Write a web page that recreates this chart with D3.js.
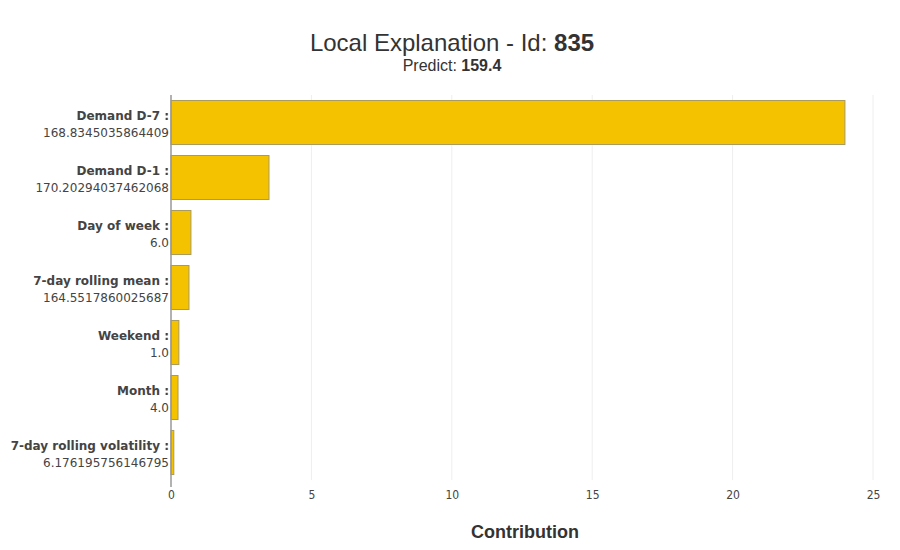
<!DOCTYPE html>
<html>
<head>
<meta charset="utf-8">
<script src="https://cdn.jsdelivr.net/npm/d3@7"></script>
<style>
  body { margin: 0; background: #fff; }
  .tick text { font-family: "DejaVu Sans Condensed", "DejaVu Sans", sans-serif; font-size: 12px; fill: #444; }
</style>
</head>
<body>
<div id="chart"></div>
<script>
// feature names, feature values and contributions
const features = ["Demand D-7", "Demand D-1", "Day of week", "7-day rolling mean", "Weekend", "Month", "7-day rolling volatility"];
const featureValues = ["168.8345035864409", "170.20294037462068", "6.0", "164.5517860025687", "1.0", "4.0", "6.176195756146795"];
const contributions = [24.0, 3.49, 0.71, 0.64, 0.28, 0.25, 0.1];
const xTicks = [0, 5, 10, 15, 20, 25];

const data = features.map((f, i) => ({name: f, value: featureValues[i], contrib: contributions[i]}));

const width = 900, height = 550;
const margin = {top: 95, right: 27, bottom: 70, left: 171};

const svg = d3.select("#chart").append("svg")
    .attr("width", width)
    .attr("height", height);

const g = svg.append("g")
    .attr("transform", `translate(${margin.left},${margin.top})`);

const innerW = width - margin.left - margin.right;
const innerH = height - margin.top - margin.bottom;

const x = d3.scaleLinear()
    .domain([0, 25])
    .range([0, 702]);

const y = d3.scaleBand()
    .domain(features)
    .range([0, 385])
    .paddingInner(0.2)
    .paddingOuter(0.1);

// gridlines
g.selectAll(".grid")
    .data(xTicks.filter(d => d > 0))
    .enter()
    .append("line")
    .attr("class", "grid")
    .attr("x1", d => x(d))
    .attr("x2", d => x(d))
    .attr("y1", 0)
    .attr("y2", 385)
    .attr("stroke", "#eeeeee")
    .attr("stroke-width", 1);

// bars
g.selectAll(".bar")
    .data(data)
    .enter()
    .append("rect")
    .attr("class", "bar")
    .attr("x", x(0))
    .attr("y", d => y(d.name))
    .attr("width", d => x(d.contrib) - x(0))
    .attr("height", y.bandwidth())
    .attr("fill", "#f5c200")
    .attr("stroke", "#a99a5e")
    .attr("stroke-width", 1);

// x axis
const xAxis = g.append("g")
    .attr("transform", "translate(0,385)")
    .call(d3.axisBottom(x).tickValues(xTicks).tickSize(0).tickPadding(10));
xAxis.select(".domain").remove();

// y axis line
g.append("line")
    .attr("x1", 0).attr("x2", 0)
    .attr("y1", 0).attr("y2", 392)
    .attr("stroke", "#999")
    .attr("stroke-width", 1.5);

// y labels - name bold, value below
const labels = g.selectAll(".ylabel")
    .data(data)
    .enter()
    .append("text")
    .attr("class", "ylabel")
    .attr("text-anchor", "end")
    .attr("font-family", "'DejaVu Sans', Verdana, sans-serif")
    .attr("font-size", 12)
    .attr("fill", "#444");

labels.append("tspan")
    .attr("x", -2)
    .attr("y", d => y(d.name) + y.bandwidth() / 2 - 3)
    .attr("font-weight", "bold")
    .text(d => d.name + " :");

labels.append("tspan")
    .attr("x", -2)
    .attr("y", d => y(d.name) + y.bandwidth() / 2 + 14)
    .text(d => d.value);

// titles
const title = svg.append("text")
    .attr("x", 452)
    .attr("y", 51)
    .attr("text-anchor", "middle")
    .attr("font-family", "'Liberation Sans', Arial, sans-serif")
    .attr("font-size", 24)
    .attr("fill", "#333");
title.append("tspan").text("Local Explanation - Id: ");
title.append("tspan").attr("font-weight", "bold").text("835");

const sub = svg.append("text")
    .attr("x", 452)
    .attr("y", 71)
    .attr("text-anchor", "middle")
    .attr("font-family", "'Liberation Sans', Arial, sans-serif")
    .attr("font-size", 16)
    .attr("fill", "#333");
sub.append("tspan").text("Predict: ");
sub.append("tspan").attr("font-weight", "bold").text("159.4");

svg.append("text")
    .attr("x", 525)
    .attr("y", 538)
    .attr("text-anchor", "middle")
    .attr("font-family", "'Liberation Sans Narrow', 'Liberation Sans', Arial, sans-serif")
    .attr("font-weight", "bold")
    .attr("font-size", 18)
    .attr("fill", "#333")
    .text("Contribution");
</script>
</body>
</html>
